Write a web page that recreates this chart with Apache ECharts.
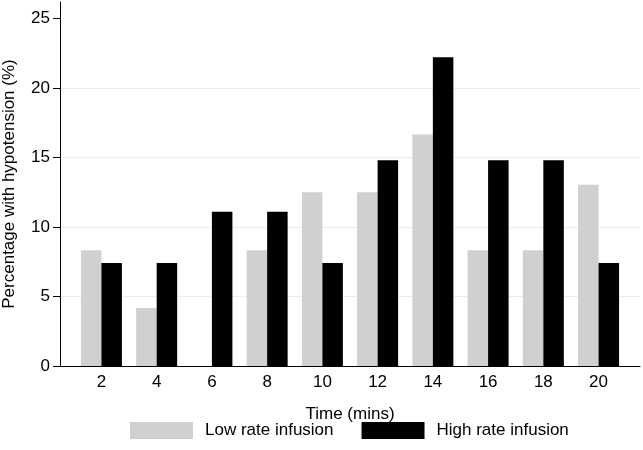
<!DOCTYPE html>
<html>
<head>
<meta charset="utf-8">
<script src="https://cdn.jsdelivr.net/npm/echarts@6/dist/echarts.min.js"></script>
<style>
  html, body { margin: 0; padding: 0; background: #fff; }
  #chart { width: 643px; height: 450px; }
</style>
</head>
<body>
<div id="chart"></div>
<script>
const times = [2, 4, 6, 8, 10, 12, 14, 16, 18, 20];
const lowRate = [8.33, 4.17, 0, 8.33, 12.5, 12.5, 16.67, 8.33, 8.33, 13.04];
const highRate = [7.41, 7.41, 11.11, 11.11, 7.41, 14.81, 22.22, 14.81, 14.81, 7.41];
const yTicks = [0, 5, 10, 15, 20, 25];
const seriesNames = ['Low rate infusion', 'High rate infusion'];

const font = 'Liberation Sans, Arial, Helvetica, sans-serif';
const chart = echarts.init(document.getElementById('chart'), null, { renderer: 'canvas' });

chart.setOption({
  animation: false,
  backgroundColor: '#ffffff',
  textStyle: { fontFamily: font },
  grid: { left: 60, right: 3, top: 2, bottom: 84, containLabel: false, outerBoundsMode: 'none' },
  legend: {
    data: seriesNames,
    left: 130,
    top: 422,
    padding: 0,
    itemWidth: 63,
    itemHeight: 17,
    itemGap: 28,
    icon: 'rect',
    textStyle: { fontFamily: font, fontSize: 17, color: '#000', padding: [0, 0, 0, 7] }
  },
  xAxis: {
    type: 'value',
    min: 0.5,
    max: 21.5,
    name: 'Time (mins)',
    nameLocation: 'middle',
    nameGap: 40,
    nameTextStyle: { fontFamily: font, fontSize: 17, color: '#000' },
    axisLine: { show: true, lineStyle: { color: '#000', width: 1 } },
    axisTick: { show: false },
    splitLine: { show: false },
    axisLabel: {
      customValues: times,
      fontFamily: font, fontSize: 17, color: '#000', margin: 8
    }
  },
  yAxis: {
    type: 'value',
    min: 0,
    max: 26.2,
    name: 'Percentage with hypotension (%)',
    nameLocation: 'middle',
    nameGap: 42,
    nameTextStyle: { fontFamily: font, fontSize: 17, color: '#000' },
    axisLine: { show: true, lineStyle: { color: '#000', width: 1 } },
    axisTick: { show: true, length: 7, customValues: yTicks, lineStyle: { color: '#000', width: 1 } },
    axisLabel: { customValues: yTicks, fontFamily: font, fontSize: 17, color: '#000', margin: 10 },
    splitLine: { show: true, showMinLine: false, showMaxLine: false, lineStyle: { color: '#e6f0f1', width: 1 } }
  },
  series: [
    {
      name: seriesNames[0],
      type: 'bar',
      data: times.map((t, i) => [t, lowRate[i]]),
      barWidth: 20.5,
      barGap: '0%',
      itemStyle: { color: '#d0d0d0' }
    },
    {
      name: seriesNames[1],
      type: 'bar',
      data: times.map((t, i) => [t, highRate[i]]),
      barWidth: 20.5,
      barGap: '0%',
      itemStyle: { color: '#000000' }
    }
  ]
});
</script>
</body>
</html>
